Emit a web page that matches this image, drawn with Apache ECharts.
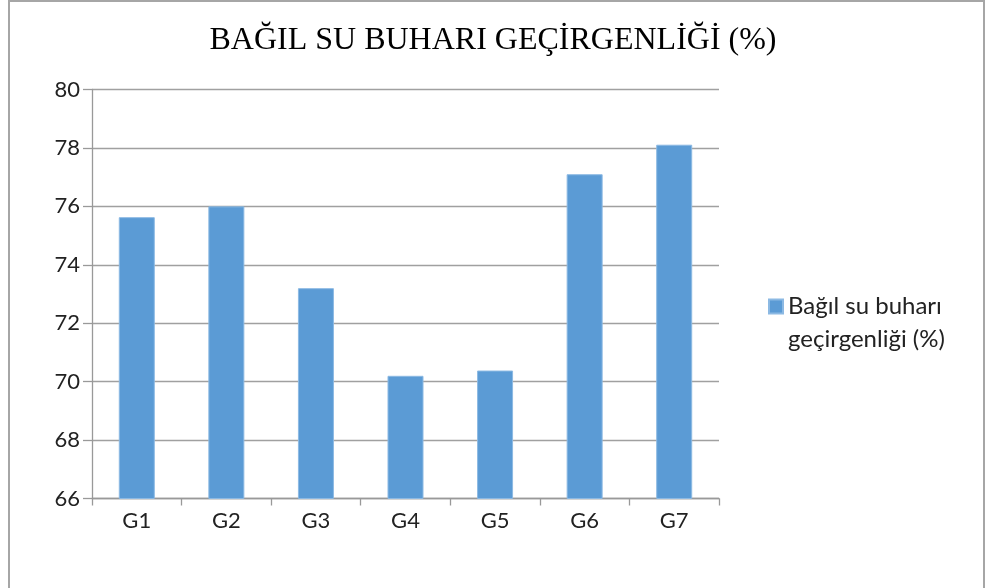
<!DOCTYPE html>
<html>
<head>
<meta charset="utf-8">
<script src="https://cdn.jsdelivr.net/npm/echarts@6/dist/echarts.min.js"></script>
<style>
html,body{margin:0;padding:0;background:#fff;}
#c{width:986px;height:588px;}
</style>
</head>
<body>
<div id="c"></div>
<script>
const titleText = 'BAĞIL SU BUHARI GEÇİRGENLİĞİ (%)';
const categories = ['G1', 'G2', 'G3', 'G4', 'G5', 'G6', 'G7'];
const seriesName = 'Bağıl su buharı\ngeçirgenliği (%)';
const values = [75.63, 76.0, 73.2, 70.2, 70.38, 77.1, 78.11];
const yMin = 66, yMax = 80, yStep = 2;

const chart = echarts.init(document.getElementById('c'), null, {renderer: 'canvas'});
chart.setOption({
  animation: false,
  backgroundColor: '#fff',
  graphic: [{
    type: 'rect',
    shape: {x: 9, y: 1, width: 975, height: 600},
    style: {fill: 'none', stroke: '#a6a6a6', lineWidth: 2},
    silent: true
  }],
  title: {
    text: titleText,
    left: 'center',
    top: 20,
    textStyle: {fontFamily: 'Liberation Serif', fontWeight: 'normal', fontSize: 32, color: '#000'}
  },
  legend: {
    left: 768,
    top: 257,
    padding: 0,
    orient: 'vertical',
    icon: 'rect',
    itemWidth: 14,
    itemHeight: 14,
    formatter: function (name) { return ' \n' + name; },
    textStyle: {fontFamily: 'Lato', fontSize: 24, color: '#222', lineHeight: 33},
    data: [seriesName]
  },
  grid: {left: 92, right: 267, top: 89.5, bottom: 89.5, containLabel: false},
  xAxis: {
    type: 'category',
    data: categories,
    axisLine: {lineStyle: {color: '#999', width: 1.3}},
    axisTick: {show: true, length: 7, lineStyle: {color: '#999', width: 1.3}},
    axisLabel: {fontFamily: 'Lato', fontSize: 22, color: '#222', margin: 11}
  },
  yAxis: {
    type: 'value',
    min: yMin, max: yMax, interval: yStep,
    axisLine: {show: true, lineStyle: {color: '#999', width: 1.3}},
    axisTick: {show: true, length: 9, lineStyle: {color: '#999', width: 1.3}},
    axisLabel: {fontFamily: 'Lato', fontSize: 22, color: '#222', margin: 12},
    splitLine: {lineStyle: {color: '#a0a0a0', width: 1.3}}
  },
  series: [{
    name: seriesName,
    type: 'bar',
    data: values,
    barWidth: 36,
    itemStyle: {color: '#5b9bd5', borderColor: '#8cb9e3', borderWidth: 1}
  }]
});
</script>
</body>
</html>
